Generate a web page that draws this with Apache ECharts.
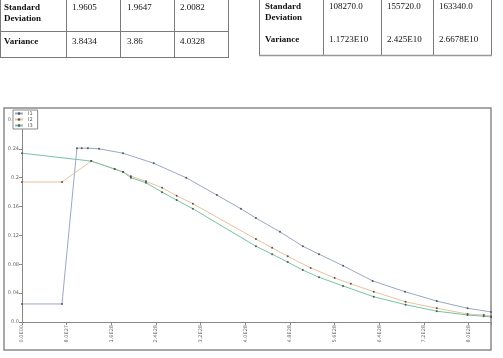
<!DOCTYPE html>
<html>
<head>
<meta charset="utf-8">
<script src="https://cdn.jsdelivr.net/npm/echarts@6/dist/echarts.min.js"></script>
<style>
  html, body { margin: 0; padding: 0; background: #fff; }
  #chart { width: 503px; height: 358px; }
</style>
</head>
<body>
<div id="chart"></div>
<script>
// table values
const rowLabels = ['Standard', 'Deviation', 'Variance']
const leftStd = ['1.9605', '1.9647', '2.0082']
const leftVar = ['3.8434', '3.86', '4.0328']
const rightStd = ['108270.0', '155720.0', '163340.0']
const rightVar = ['1.1723E10', '2.425E10', '2.6678E10']

// chart data, x in units of 1E27
const xTickLabels = ['0.0E00', '8.0E27', '1.6E28', '2.4E28', '3.2E28', '4.0E28',
  '4.8E28', '5.6E28', '6.4E28', '7.2E28', '8.0E28']
const yTickLabels = ['0.0', '0.04', '0.08', '0.12', '0.16', '0.2', '0.24', '0.28']
const seriesNames = ['I1', 'I2', 'I3']

const i1X = [0, 7.16, 9.84, 10.7, 11.8, 13.8, 18.1, 23.6, 29.4, 34.9, 39.2, 41.9, 46.2, 50.3, 53.2, 57.5, 62.8, 68.6, 74.3, 79.8, 84]
const i1Y = [0.025, 0.025, 0.241, 0.241, 0.241, 0.240, 0.234, 0.220, 0.200, 0.176, 0.157, 0.144, 0.125, 0.105, 0.094, 0.078, 0.057, 0.042, 0.029, 0.019, 0.014]

const i2X = [0, 7.16, 12.4, 16.6, 18.1, 19.5, 22.2, 25.1, 27.7, 30.6, 41.9, 44.8, 47.6, 51.7, 56.0, 58.9, 63.0, 68.7, 74.3, 79.8, 82.7, 84]
const i2Y = [0.194, 0.194, 0.223, 0.212, 0.208, 0.202, 0.195, 0.186, 0.175, 0.164, 0.115, 0.103, 0.091, 0.075, 0.061, 0.053, 0.042, 0.028, 0.019, 0.011, 0.0097, 0.008]

const i3X = [0, 12.4, 16.6, 18.1, 19.5, 22.2, 25.1, 27.7, 30.6, 41.9, 44.8, 47.6, 50.3, 53.2, 57.5, 63.0, 68.7, 74.3, 79.8, 82.7, 84]
const i3Y = [0.234, 0.223, 0.212, 0.208, 0.200, 0.193, 0.180, 0.169, 0.157, 0.105, 0.094, 0.083, 0.072, 0.062, 0.050, 0.035, 0.024, 0.015, 0.0097, 0.008, 0.007]

const colors = ['#9ba7c9', '#e6c49c', '#76c4a4']

const chart = echarts.init(document.getElementById('chart'))

function pairs(xs, ys) {
  return xs.map((x, i) => [x, ys[i]])
}

function tableGraphics() {
  const g = []
  const line = (x1, y1, x2, y2, c, w) => g.push({
    type: 'line', shape: { x1, y1, x2, y2 },
    style: { stroke: c || '#7a7a7a', lineWidth: w || 1 }
  })
  const text = (x, y, s, bold) => g.push({
    type: 'text', x, y,
    style: { text: s, fill: '#111', font: (bold ? 'bold ' : '') + '9px "Liberation Serif"' }
  })

  // left table
  ;[0.5, 66.5, 120.5, 174.5, 228.5].forEach(x => line(x, 0, x, 58))
  line(0, 31.5, 228.5, 31.5)
  line(0, 57.5, 228.5, 57.5)
  text(4, 3, rowLabels[0], true)
  text(4, 14, rowLabels[1], true)
  text(4, 37, rowLabels[2], true)
  const lx = [72, 127, 180]
  leftStd.forEach((s, i) => text(lx[i], 3, s))
  leftVar.forEach((s, i) => text(lx[i], 37, s))

  // right table
  ;[259.5, 323.5, 381.5, 433.5, 491.5].forEach(x => line(x, 0, x, 56))
  line(259, 55.5, 492, 55.5, '#999', 1.5)
  text(265, 2, rowLabels[0], true)
  text(265, 13, rowLabels[1], true)
  text(265, 35, rowLabels[2], true)
  const rx = [329, 387, 439]
  rightStd.forEach((s, i) => text(rx[i], 2, s))
  rightVar.forEach((s, i) => text(rx[i], 35, s))

  // chart frame and y axis stub above the top tick
  g.push({
    type: 'rect', shape: { x: 4, y: 108, width: 487, height: 242 },
    style: { stroke: '#8a8a8a', fill: null, lineWidth: 1.5 }
  })
  line(22.5, 111, 22.5, 120, '#888', 1)
  return g
}

const option = {
  backgroundColor: '#fff',
  animation: false,
  grid: { left: 22, right: 12, top: 120, bottom: 36 },
  legend: {
    data: seriesNames,
    orient: 'vertical',
    left: 13,
    top: 110,
    itemWidth: 8,
    itemHeight: 3,
    itemGap: 1,
    padding: [1, 5, 1, 1],
    backgroundColor: '#fff',
    borderColor: '#888',
    borderWidth: 1,
    textStyle: { fontSize: 5, color: '#555', fontFamily: 'DejaVu Sans' },
    z: 10
  },
  xAxis: {
    type: 'value',
    min: 0,
    max: 84,
    interval: 8,
    splitLine: { show: false },
    axisLine: { lineStyle: { color: '#888' } },
    axisTick: { length: 3, lineStyle: { color: '#888' } },
    axisLabel: {
      rotate: 90,
      fontSize: 5,
      color: '#666',
      fontFamily: 'DejaVu Sans',
      margin: 3,
      formatter: v => (v % 8 === 0 ? xTickLabels[v / 8] : '')
    }
  },
  yAxis: {
    type: 'value',
    min: 0,
    max: 0.28,
    interval: 0.04,
    splitLine: { show: false },
    axisLine: { show: true, lineStyle: { color: '#888' } },
    axisTick: { show: true, length: 3, lineStyle: { color: '#888' } },
    axisLabel: {
      fontSize: 5,
      color: '#666',
      fontFamily: 'DejaVu Sans',
      margin: 3,
      formatter: v => yTickLabels[Math.round(v / 0.04)]
    }
  },
  series: [
    [i1X, i1Y], [i2X, i2Y], [i3X, i3Y]
  ].map(([xs, ys], i) => ({
    name: seriesNames[i],
    type: 'line',
    data: pairs(xs, ys),
    symbol: 'circle',
    symbolSize: 2,
    showSymbol: true,
    itemStyle: { color: '#555' },
    lineStyle: { color: colors[i], width: 1 }
  })),
  graphic: tableGraphics()
}

chart.setOption(option)
</script>
</body>
</html>
